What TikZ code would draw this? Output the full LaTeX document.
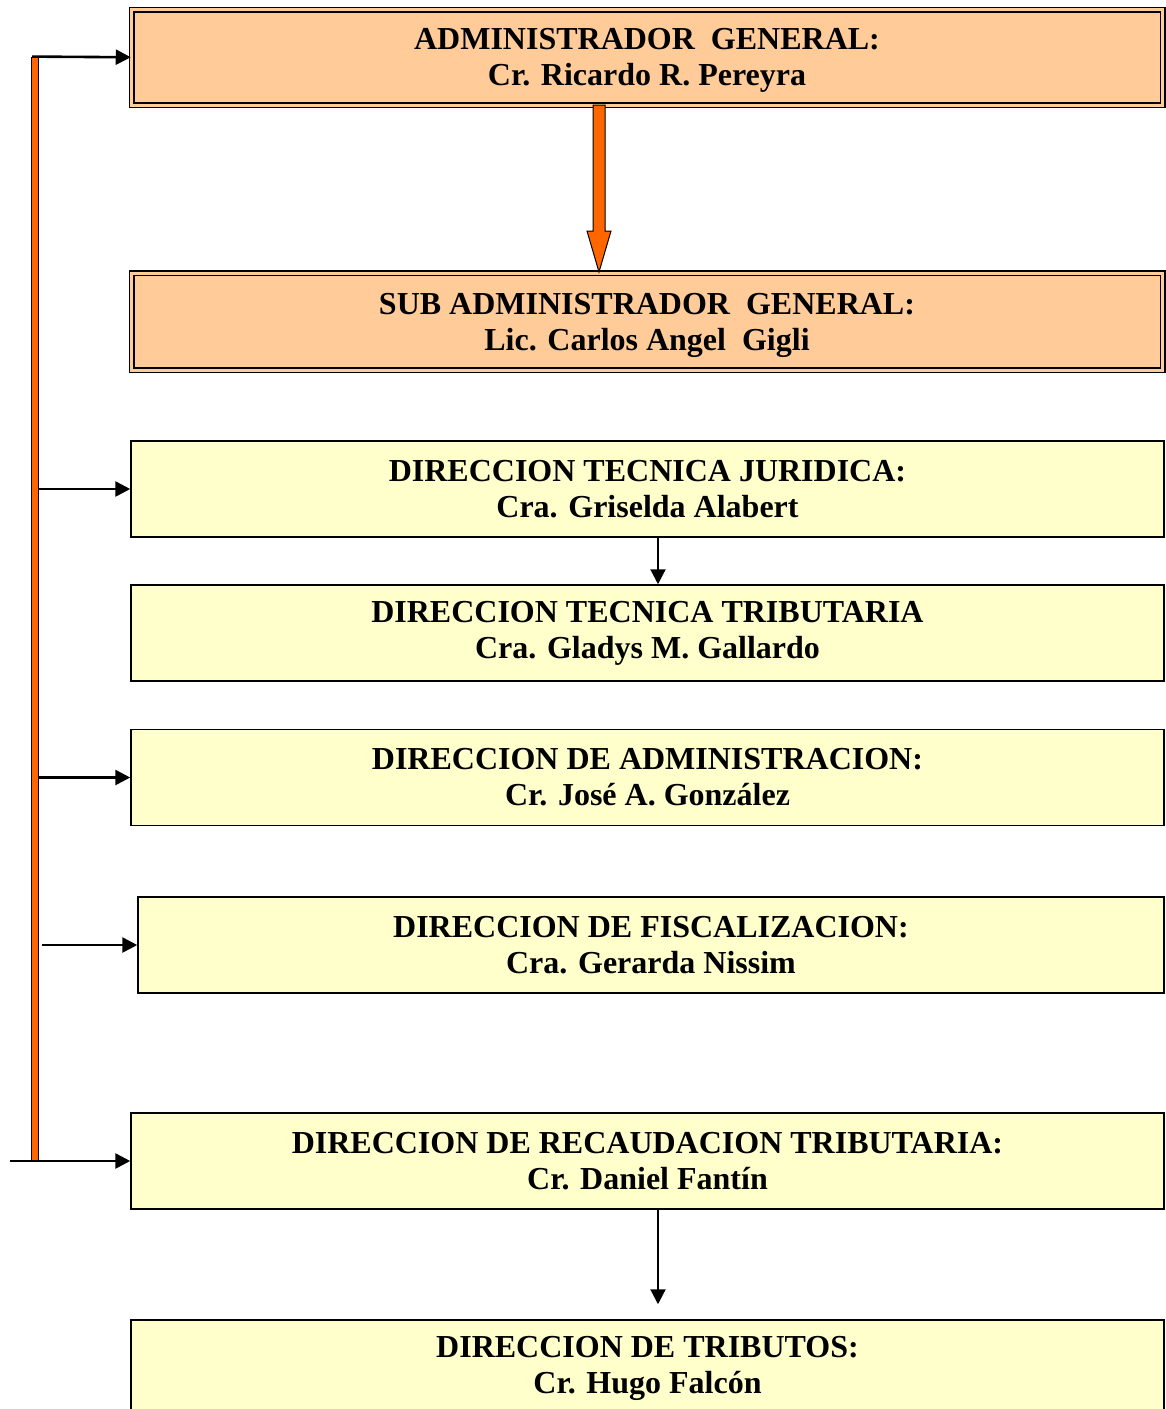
\documentclass[tikz,border=0pt]{standalone}
\usepackage{fontspec}
\setmainfont{Liberation Serif}
\usetikzlibrary{arrows.meta}
\definecolor{peach}{HTML}{FFCC99}
\definecolor{paleyellow}{HTML}{FFFFCC}
\definecolor{vividorange}{HTML}{FF6600}

\begin{document}
\begin{tikzpicture}[x=1pt,y=-1pt,>={Triangle[length=15pt,width=15pt]},
  line width=2.6pt,
  head node/.style={rectangle,draw,line width=1.5pt,double=peach,double distance=3pt,
    fill=peach,minimum width=1031pt,inner sep=0pt,align=center,text depth=0pt,
    font=\bfseries\fontsize{32}{36}\selectfont},
  unit node/.style={rectangle,draw,line width=1.5pt,fill=paleyellow,
    minimum width=1033pt,minimum height=96pt,inner sep=0pt,align=center,
    font=\bfseries\fontsize{32}{36}\selectfont}]

  \useasboundingbox (0,0) rectangle (1166,1409);

  \node[draw,fill=vividorange,line width=0.8pt,minimum width=7pt,
    minimum height=1104pt,inner sep=0pt] (spine) at (35,609) {};

  \node[head node,minimum height=95.5pt] (admin) at (647,57.25)
    {ADMINISTRADOR\ \ GENERAL:\\Cr. Ricardo R. Pereyra};
  \node[head node,minimum height=97pt] (subadmin) at (647,321.5)
    {SUB ADMINISTRADOR\ \ GENERAL:\\Lic. Carlos Angel\ \ Gigli};

  \node[unit node] (juridica) at (647.5,489)
    {DIRECCION TECNICA JURIDICA:\\Cra. Griselda Alabert};
  \node[unit node] (tributaria) at (647.5,633)
    {DIRECCION TECNICA TRIBUTARIA\\Cra. Gladys M. Gallardo};
  \node[unit node] (administracion) at (647.5,777.5)
    {DIRECCION DE ADMINISTRACION:\\Cr. José A. González};
  \node[unit node,minimum width=1026pt] (fiscalizacion) at (651,945)
    {DIRECCION DE FISCALIZACION:\\Cra. Gerarda Nissim};
  \node[unit node] (recaudacion) at (647.5,1161)
    {DIRECCION DE RECAUDACION TRIBUTARIA:\\Cr. Daniel Fantín};
  \node[unit node] (tributos) at (647.5,1368)
    {DIRECCION DE TRIBUTOS:\\Cr. Hugo Falcón};

  \coordinate (feed) at (10,1161);

  % links from the spine
  \draw[->] ([xshift=-3pt]spine.north) -- (admin.west);
  \draw[->] (spine.east |- juridica.west) -- (juridica.west);
  \draw[->] (spine.east |- administracion.west) -- (administracion.west);
  \draw[->] ([xshift=3pt]spine.east |- fiscalizacion.west) -- (fiscalizacion.west);
  \draw[->] (feed) -- (recaudacion.west);

  % links between units
  \draw[->,line width=2.2pt] ([xshift=10.5pt]juridica.south) -- ([xshift=10.5pt]tributaria.north);
  \draw[->,line width=2.2pt,shorten >=15pt] ([xshift=10.5pt]recaudacion.south) -- ([xshift=10.5pt]tributos.north);

  % big arrow
  \draw[line width=1pt,fill=vividorange,line join=miter]
    (593,105) -- (605,105) -- (605,231) -- (611,231) -- (599,272)
    -- (587,231) -- (593,231) -- cycle;
\end{tikzpicture}
\end{document}
